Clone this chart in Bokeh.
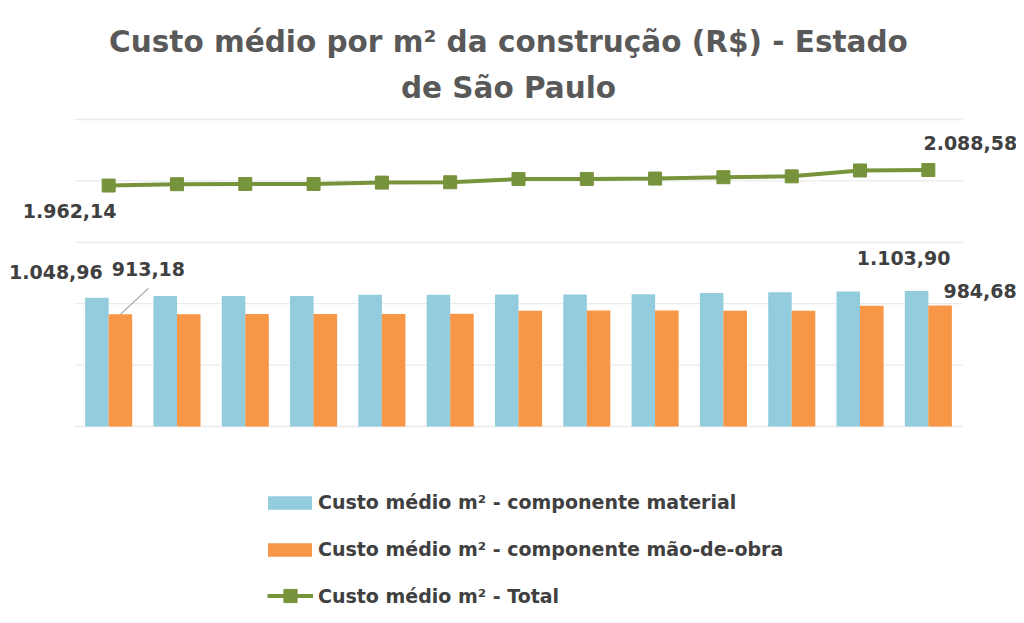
from bokeh.plotting import figure
from bokeh.models import (Range1d, ColumnDataSource, LabelSet, Title, Legend, LegendItem)
from bokeh.core.properties import value
from bokeh.embed import file_html
from bokeh.resources import INLINE

# ---- data ----
periods = list(range(13))
material = [1048.96, 1062.0, 1062.0, 1062.0, 1072.5, 1072.5, 1075.0, 1075.0, 1076.0, 1088.0, 1093.5, 1098.5, 1103.90]
labor = [913.18, 914.0, 916.0, 916.0, 916.5, 919.0, 943.0, 945.0, 945.0, 943.0, 943.5, 983.0, 984.68]
total = [1962.14, 1973.0, 1975.0, 1975.0, 1986.0, 1989.0, 2015.0, 2016.0, 2019.0, 2030.0, 2037.0, 2085.0, 2088.58]
y_ticks = [0, 500, 1000, 1500, 2000, 2500]
series_names = ["Custo médio m² - componente material",
                "Custo médio m² - componente mão-de-obra",
                "Custo médio m² - Total"]
title_lines = ["Custo médio por m² da construção (R$) - Estado", "de São Paulo"]

# ---- style ----
BLUE = "#93CDDD"
ORANGE = "#F79646"
GREEN = "#77933C"
TXT = "#404040"
FONT = "DejaVu Sans"
W, H = 1016, 615
TOP = 111                      # top of the drawing frame (px)
PLOT_L, PLOT_R = 74, 962       # plot area in px
PLOT_T, PLOT_B = 119, 426      # y of top tick and of zero in px
y_max = y_ticks[-1]
x_lo, x_hi = periods[0] - 0.5, periods[-1] + 0.5
ppx = (PLOT_R - PLOT_L) / (x_hi - x_lo)
ppy = (PLOT_B - PLOT_T) / y_max

def fmt(v):
    s = f"{v:,.2f}"
    return s.replace(",", "X").replace(".", ",").replace("X", ".")

x_range = Range1d(x_lo - PLOT_L / ppx, x_hi + (W - PLOT_R) / ppx)
y_range = Range1d(-(H - PLOT_B) / ppy, y_max + (PLOT_T - TOP) / ppy)

p = figure(width=W, height=H, output_backend="svg", toolbar_location=None,
           x_range=x_range, y_range=y_range,
           min_border_left=0, min_border_right=0, min_border_top=TOP, min_border_bottom=0)
p.xaxis.visible = False
p.yaxis.visible = False
p.xgrid.visible = False
p.ygrid.visible = False
p.outline_line_color = None
p.background_fill_color = "white"
p.border_fill_color = "white"

# gridlines
p.segment(x0=[x_lo] * len(y_ticks), x1=[x_hi] * len(y_ticks), y0=y_ticks, y1=y_ticks,
          line_color="#EBEBEB", line_width=1.3)

off = 0.172
bw = 0.345
xm = [i - off for i in periods]
xl = [i + off for i in periods]
r1 = p.vbar(x=xm, top=material, width=bw, fill_color=BLUE, line_color=None)
r2 = p.vbar(x=xl, top=labor, width=bw, fill_color=ORANGE, line_color=None)
r3 = p.line(periods, total, line_color=GREEN, line_width=4)
r4 = p.scatter(periods, total, marker="square", size=13, fill_color=GREEN, line_color=GREEN)

# leader line for first labor label
p.segment(x0=[xl[0]], y0=[labor[0]], x1=[xl[0] + 28 / ppx], y1=[labor[0] + 26 / ppy],
          line_color="#A6A6A6", line_width=1.3)

# data labels (first and last of each series)
lab_x = [periods[0], xm[0], xl[0], periods[-1], xm[-1], xl[-1]]
lab_y = [total[0], material[0], labor[0], total[-1], material[-1], labor[-1]]
lab_t = [fmt(v) for v in lab_y]
x_offs = [-39, -41, 28, 42, -13, 40]
y_offs = [-25, 26, 45, 27, 33, 15]
src = ColumnDataSource(dict(x=lab_x, y=lab_y, t=lab_t, xo=x_offs, yo=y_offs))
ls = LabelSet(x="x", y="y", text="t", source=src, x_offset="xo", y_offset="yo",
              text_align="center", text_baseline="middle", text_font=value(FONT),
              text_font_style="bold", text_font_size="19px", text_color=TXT,
              background_fill_color="white")
p.add_layout(ls)

# title
t2 = Title(text=title_lines[1], align="center", text_font=FONT, text_font_style="bold",
           text_font_size="29.5px", text_color="#595959", standoff=14, offset=8)
t1 = Title(text=title_lines[0], align="center", text_font=FONT, text_font_style="bold",
           text_font_size="29.5px", text_color="#595959", standoff=5, offset=8)
p.add_layout(t2, "above")
p.add_layout(t1, "above")

common = dict(orientation="vertical", padding=0, margin=0, border_line_color=None,
              background_fill_alpha=0, label_text_font=FONT, label_text_font_style="bold",
              label_text_font_size="19px", label_text_color=TXT, label_height=20)
legend_bars = Legend(items=[LegendItem(label=series_names[0], renderers=[r1]),
                            LegendItem(label=series_names[1], renderers=[r2])],
                     location=(262, 55), glyph_width=55, glyph_height=17, spacing=25,
                     label_standoff=1, **common)
legend_line = Legend(items=[LegendItem(label=series_names[2], renderers=[r3, r4])],
                     location=(267, 3), glyph_width=46, glyph_height=33,
                     label_standoff=5, **common)
p.add_layout(legend_bars, "center")
p.add_layout(legend_line, "center")

open("out.html", "w").write(file_html(p, INLINE))
